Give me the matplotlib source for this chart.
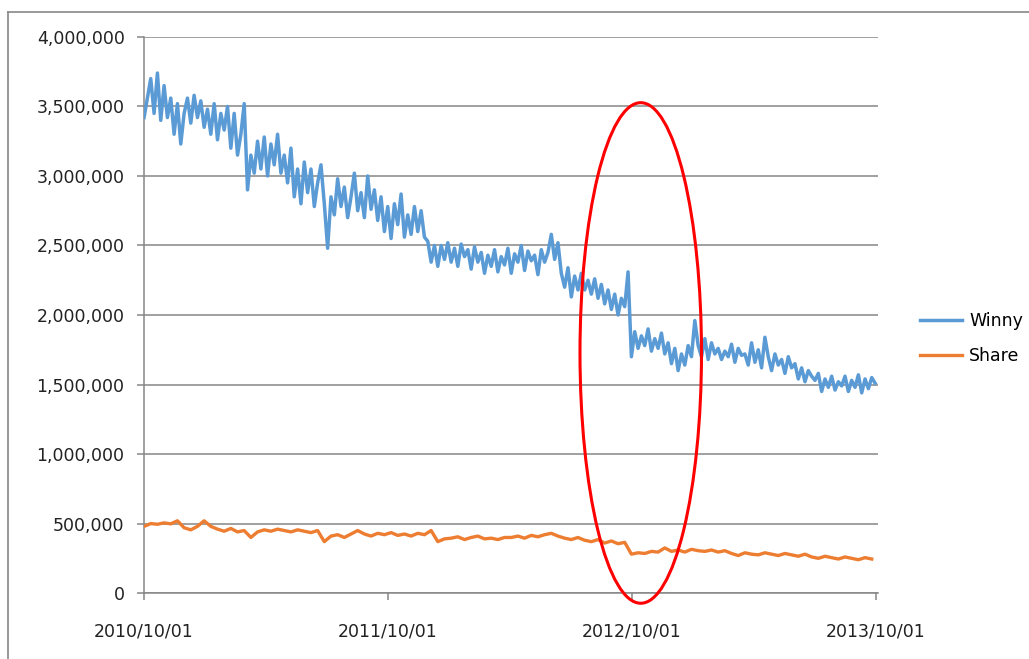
import pandas as pd
import matplotlib
matplotlib.use("Agg")
import matplotlib.pyplot as plt
import matplotlib.dates as mdates
import matplotlib.ticker as mticker
from matplotlib.patches import Ellipse
from matplotlib.lines import Line2D

# daily counts (thousands), Winny every 5 days, Share every 10 days
winny = [
    3420, 3560,
    3700, 3450, 3740, 3400,
    3650, 3420, 3560,
    3300, 3520, 3230, 3450,
    3560, 3380, 3580, 3420, 3540, 3350,
    3480, 3300, 3520, 3260, 3450, 3330, 3500,
    3200, 3450, 3150, 3300, 3520,
    2900, 3150, 3020,
    3250, 3050, 3280, 3000, 3230, 3080, 3300, 3020, 3150,
    2950, 3200, 2850, 3050, 2800, 3100, 2880,
    3050, 2780, 2950, 3080, 2800, 2480,
    2850, 2720, 2980, 2780, 2920, 2700, 2850, 3020, 2750, 2880,
    2700, 3000, 2760, 2900,
    2680, 2850, 2600, 2780, 2550, 2800, 2650,
    2870, 2560,
    2720, 2580, 2780, 2600, 2750, 2560,
    2530, 2380, 2500, 2350,
    2500, 2400, 2520, 2380, 2480, 2350, 2510, 2420, 2470, 2330,
    2490, 2380, 2450, 2300, 2430, 2350, 2470, 2310, 2420, 2360,
    2480, 2300, 2440, 2380, 2500, 2320, 2460, 2390, 2430, 2290,
    2470, 2380, 2450,
    2580, 2400, 2520,
    2300, 2200, 2340, 2130, 2280, 2180,
    2300, 2180, 2250, 2150, 2260, 2120,
    2220, 2080, 2180, 2040, 2150, 2000, 2120, 2060,
    2310,
    1700,
    1880, 1760, 1850, 1780, 1900, 1740, 1830, 1760, 1870, 1720,
    1800, 1650, 1760, 1600, 1720, 1640, 1780, 1700,
    1960,
    1780, 1700, 1830, 1680, 1800, 1720, 1760, 1680, 1740, 1700, 1790, 1660, 1760, 1710,
    1720, 1640, 1800, 1660, 1750, 1620,
    1840,
    1700, 1600, 1720, 1640, 1680, 1580, 1700, 1620,
    1650, 1540, 1620, 1520, 1600, 1560, 1530,
    1580, 1450, 1540, 1480, 1560, 1460, 1520, 1490,
    1560, 1450, 1530, 1480, 1570, 1440, 1540, 1470, 1550, 1510,
]
share = [
    480, 500, 495, 505, 498, 520,
    470, 455, 480,
    520, 480,
    460, 445, 465, 440, 450,
    400, 440,
    455, 445, 460, 450, 440, 455, 445, 435, 450,
    370,
    410, 420, 400, 425,
    450,
    425, 410, 430, 420, 435, 415, 425, 410, 430, 420, 450,
    370, 390,
    395, 405, 385, 400, 410, 390, 395, 385, 400,
    400, 410, 395, 415, 405, 420,
    430,
    410, 395, 385, 400, 380, 370, 385, 360, 375, 355, 365,
    280,
    290, 285, 300, 295,
    325,
    300, 310, 295, 315, 305, 300, 310, 295, 305,
    285, 270, 290, 280, 275, 290, 280, 270, 285, 275, 265, 280,
    260, 250, 265, 255, 245, 260, 250, 240, 255, 245,
]
tick_labels = ["2010/10/01", "2011/10/01", "2012/10/01", "2013/10/01"]

start = pd.Timestamp("2010-10-01")
winny_dates = pd.date_range(start, periods=len(winny), freq="5D")
share_dates = pd.date_range(start, periods=len(share), freq="10D")

fig = plt.figure(figsize=(10.29, 6.59), dpi=100)
ax = fig.add_axes([0.140, 0.100, 0.713, 0.844])

ax.plot(winny_dates, [v * 1000 for v in winny], color="#5B9BD5", lw=2.5, label="Winny", zorder=3)
ax.plot(share_dates, [v * 1000 for v in share], color="#ED7D31", lw=2.4, label="Share", zorder=3)

ax.set_ylim(0, 4000000)
ax.set_xlim(start, pd.Timestamp("2013-10-04"))
ax.yaxis.set_major_locator(mticker.MultipleLocator(500000))
ax.yaxis.set_major_formatter(mticker.FuncFormatter(lambda v, p: f"{int(v):,}"))
ticks = [pd.Timestamp(t.replace("/", "-")) for t in tick_labels]
ax.set_xticks(ticks)
ax.set_xticklabels(tick_labels)

ax.grid(axis="y", color="#868686", lw=1.1, zorder=1)
for s in ["top", "right"]:
    ax.spines[s].set_visible(False)
for s in ["left", "bottom"]:
    ax.spines[s].set_color("#868686")
    ax.spines[s].set_linewidth(1.1)
ax.tick_params(axis="y", length=5, color="#868686", width=1.1, pad=9, labelsize=12.5, labelcolor="#222222")
ax.tick_params(axis="x", length=5, color="#868686", width=1.1, pad=16, labelsize=12.5, labelcolor="#222222")

# red ellipse around the drop
cx = mdates.date2num(pd.Timestamp("2012-10-14"))
ax.add_patch(Ellipse((cx, 1727000), width=182, height=3600000, fill=False,
                     edgecolor="red", lw=2.2, clip_on=False, zorder=4))

fig.legend(loc="center left", bbox_to_anchor=(0.886, 0.486), frameon=False, borderpad=0,
           handlelength=2.4, handletextpad=0.4, labelspacing=0.95, fontsize=12.5)

# outer frame (top and left only visible)
fig.add_artist(Line2D([8 / 1029, 8 / 1029], [0, 1 - 12 / 659], transform=fig.transFigure, color="#888888", lw=1.2))
fig.add_artist(Line2D([8 / 1029, 1], [1 - 12 / 659, 1 - 12 / 659], transform=fig.transFigure, color="#888888", lw=1.2))

fig.savefig("out.png", dpi=100)
